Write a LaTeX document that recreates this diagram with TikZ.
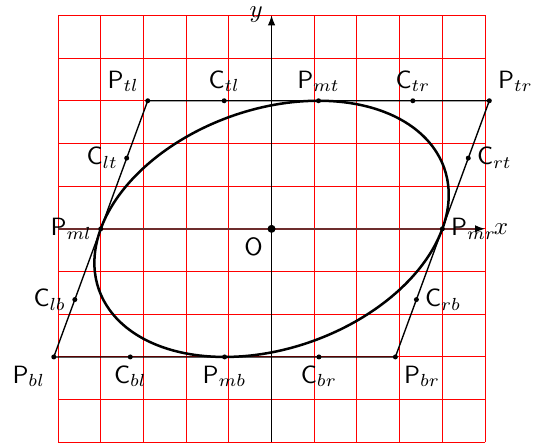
\documentclass[tikz,border=0pt]{standalone}
\usetikzlibrary{arrows.meta}
\definecolor{axisbrown}{RGB}{110,45,45}
\tikzset{
  gridline/.style={red, line width=0.4pt},
  tangentline/.style={black, line width=0.55pt},
  curveline/.style={black, line width=1pt},
  lbl/.style={inner sep=0.333em, font=\normalsize},
  axistip/.style={-{Latex[length=4pt,width=3pt,color=black]}},
}
\begin{document}
\begin{tikzpicture}[x=0.6cm,y=0.6cm]
\useasboundingbox (-6.36,-5.09) rectangle (6.17,5.36);
% grid
\foreach \i in {-5,...,5} {
  \draw[gridline] (\i,-5) -- (\i,5);
  \draw[gridline] (-5,\i) -- (5,\i);
}
% axes
\coordinate (Xs) at (-5,0);
\coordinate (Xe) at (5,0);
\coordinate (Ys) at (0,-5);
\coordinate (Ye) at (0,5);
\draw[axisbrown, line width=0.6pt, axistip] (Xs) -- (Xe);
\draw[black, line width=0.5pt, axistip] (Ys) -- (Ye);
\node[lbl, right] (xlab) at (Xe) {$x$};
\node[lbl, left, yshift=0.5pt] (ylab) at (Ye) {$y$};
% points
\coordinate (O) at (0,0);
\coordinate (Pml) at (-4,0);
\coordinate (Pmr) at (4,0);
\coordinate (Pmt) at (1.1,3);
\coordinate (Pmb) at (-1.1,-3);
\coordinate (Ptl) at (-2.9,3);
\coordinate (Ptr) at (5.1,3);
\coordinate (Pbl) at (-5.1,-3);
\coordinate (Pbr) at (2.9,-3);
\coordinate (Clt) at (-3.3925,1.6569);
\coordinate (Ctl) at (-1.1092,3);
\coordinate (Ctr) at (3.3092,3);
\coordinate (Crt) at (4.6075,1.6569);
\coordinate (Crb) at (3.3925,-1.6569);
\coordinate (Cbr) at (1.1092,-3);
\coordinate (Cbl) at (-3.3092,-3);
\coordinate (Clb) at (-4.6075,-1.6569);
% parallelogram
\draw[tangentline] (Pbl) -- (Ptl) -- (Ptr) -- (Pbr) -- cycle;
% ellipse from four Bezier quarters
\draw[curveline] (Pml) .. controls (Clt) and (Ctl) .. (Pmt)
  .. controls (Ctr) and (Crt) .. (Pmr)
  .. controls (Crb) and (Cbr) .. (Pmb)
  .. controls (Cbl) and (Clb) .. (Pml);
% dots
\foreach \p in {Pml,Pmr,Pmt,Pmb,Ptl,Ptr,Pbl,Pbr,Clt,Ctl,Ctr,Crt,Crb,Cbr,Cbl,Clb}
  \fill (\p) circle (1pt);
\fill (O) circle (1.6pt);
% labels
\node[lbl, below left] (lO) at (O) {$\mathsf{O}$};
\node[lbl, above left] (lPtl) at (Ptl) {$\mathsf{P}_{tl}$};
\node[lbl, above] (lCtl) at (Ctl) {$\mathsf{C}_{tl}$};
\node[lbl, above] (lPmt) at (Pmt) {$\mathsf{P}_{mt}$};
\node[lbl, above] (lCtr) at (Ctr) {$\mathsf{C}_{tr}$};
\node[lbl, above right] (lPtr) at (Ptr) {$\mathsf{P}_{tr}$};
\node[lbl, left] (lClt) at (Clt) {$\mathsf{C}_{lt}$};
\node[lbl, right] (lCrt) at (Crt) {$\mathsf{C}_{rt}$};
\node[lbl, left] (lPml) at (Pml) {$\mathsf{P}_{ml}$};
\node[lbl, right] (lPmr) at (Pmr) {$\mathsf{P}_{mr}$};
\node[lbl, left] (lClb) at (Clb) {$\mathsf{C}_{lb}$};
\node[lbl, right] (lCrb) at (Crb) {$\mathsf{C}_{rb}$};
\node[lbl, below left] (lPbl) at (Pbl) {$\mathsf{P}_{bl}$};
\node[lbl, below] (lCbl) at (Cbl) {$\mathsf{C}_{bl}$};
\node[lbl, below] (lPmb) at (Pmb) {$\mathsf{P}_{mb}$};
\node[lbl, below] (lCbr) at (Cbr) {$\mathsf{C}_{br}$};
\node[lbl, below right] (lPbr) at (Pbr) {$\mathsf{P}_{br}$};
\end{tikzpicture}
\end{document}
